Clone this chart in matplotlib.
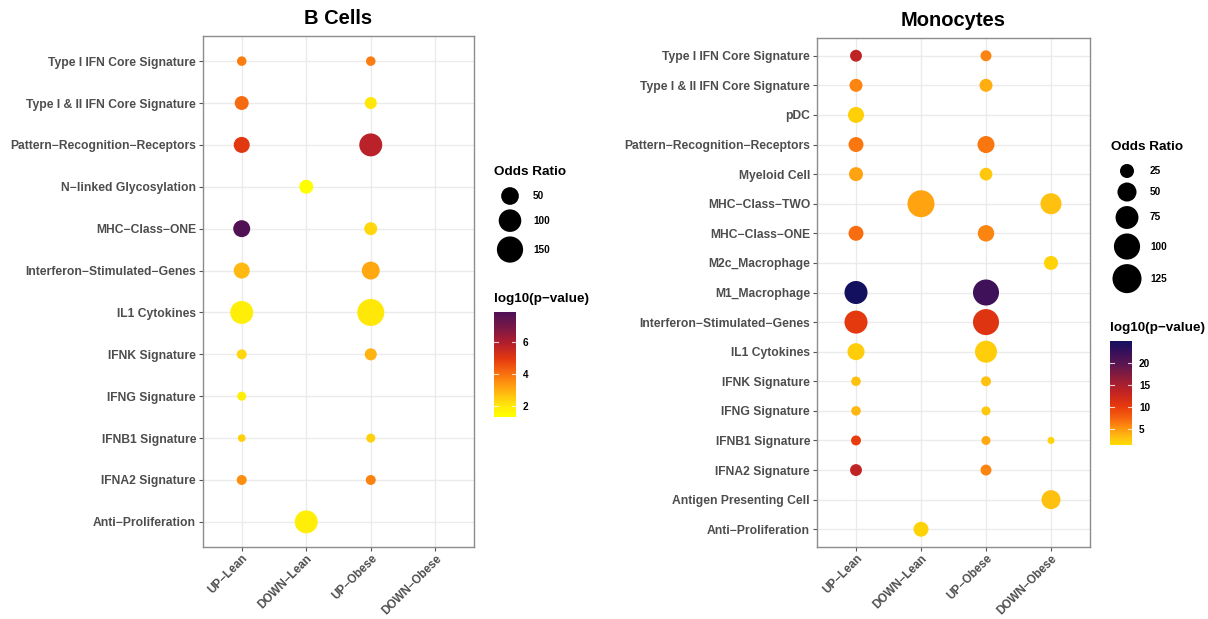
import numpy as np
import matplotlib
matplotlib.use("Agg")
import matplotlib.pyplot as plt
from matplotlib.colors import LinearSegmentedColormap, Normalize
from matplotlib.colorbar import ColorbarBase

plt.rcParams['font.family'] = ['Liberation Sans', 'DejaVu Sans']
plt.rcParams['font.weight'] = 'bold'

# ---------------- data ----------------
groups = ["UP−Lean", "DOWN−Lean", "UP−Obese", "DOWN−Obese"]

bc_sets = ["Type I IFN Core Signature", "Type I & II IFN Core Signature",
           "Pattern−Recognition−Receptors", "N−linked Glycosylation",
           "MHC−Class−ONE", "Interferon−Stimulated−Genes", "IL1 Cytokines",
           "IFNK Signature", "IFNG Signature", "IFNB1 Signature",
           "IFNA2 Signature", "Anti−Proliferation"]
bc_pt_set = ["Type I IFN Core Signature", "Type I IFN Core Signature",
             "Type I & II IFN Core Signature", "Type I & II IFN Core Signature",
             "Pattern−Recognition−Receptors", "Pattern−Recognition−Receptors",
             "N−linked Glycosylation",
             "MHC−Class−ONE", "MHC−Class−ONE",
             "Interferon−Stimulated−Genes", "Interferon−Stimulated−Genes",
             "IL1 Cytokines", "IL1 Cytokines",
             "IFNK Signature", "IFNK Signature",
             "IFNG Signature",
             "IFNB1 Signature", "IFNB1 Signature",
             "IFNA2 Signature", "IFNA2 Signature",
             "Anti−Proliferation"]
bc_pt_group = ["UP−Lean", "UP−Obese",
               "UP−Lean", "UP−Obese",
               "UP−Lean", "UP−Obese",
               "DOWN−Lean",
               "UP−Lean", "UP−Obese",
               "UP−Lean", "UP−Obese",
               "UP−Lean", "UP−Obese",
               "UP−Lean", "UP−Obese",
               "UP−Lean",
               "UP−Lean", "UP−Obese",
               "UP−Lean", "UP−Obese",
               "DOWN−Lean"]
bc_odds = [7.5, 7.5, 24, 15, 37, 105, 24, 44, 19, 37, 52, 105, 162,
           8.5, 15, 6.6, 5.2, 6.6, 8.5, 8.5, 105]
bc_logp = [3.8, 3.8, 4.1, 2.0, 5.0, 5.8, 1.35, 7.8, 2.3, 2.8, 3.1, 1.85, 2.0,
           2.3, 2.9, 1.8, 2.4, 2.4, 3.5, 3.7, 1.85]
bc_size_breaks = [50, 100, 150]
bc_color_breaks = [2, 4, 6]

mo_sets = ["Type I IFN Core Signature", "Type I & II IFN Core Signature", "pDC",
           "Pattern−Recognition−Receptors", "Myeloid Cell", "MHC−Class−TWO",
           "MHC−Class−ONE", "M2c_Macrophage", "M1_Macrophage",
           "Interferon−Stimulated−Genes", "IL1 Cytokines", "IFNK Signature",
           "IFNG Signature", "IFNB1 Signature", "IFNA2 Signature",
           "Antigen Presenting Cell", "Anti−Proliferation"]
mo_pt_set = ["Type I IFN Core Signature", "Type I IFN Core Signature",
             "Type I & II IFN Core Signature", "Type I & II IFN Core Signature",
             "pDC",
             "Pattern−Recognition−Receptors", "Pattern−Recognition−Receptors",
             "Myeloid Cell", "Myeloid Cell",
             "MHC−Class−TWO", "MHC−Class−TWO",
             "MHC−Class−ONE", "MHC−Class−ONE",
             "M2c_Macrophage",
             "M1_Macrophage", "M1_Macrophage",
             "Interferon−Stimulated−Genes", "Interferon−Stimulated−Genes",
             "IL1 Cytokines", "IL1 Cytokines",
             "IFNK Signature", "IFNK Signature",
             "IFNG Signature", "IFNG Signature",
             "IFNB1 Signature", "IFNB1 Signature", "IFNB1 Signature",
             "IFNA2 Signature", "IFNA2 Signature",
             "Antigen Presenting Cell",
             "Anti−Proliferation"]
mo_pt_group = ["UP−Lean", "UP−Obese",
               "UP−Lean", "UP−Obese",
               "UP−Lean",
               "UP−Lean", "UP−Obese",
               "UP−Lean", "UP−Obese",
               "DOWN−Lean", "DOWN−Obese",
               "UP−Lean", "UP−Obese",
               "DOWN−Obese",
               "UP−Lean", "UP−Obese",
               "UP−Lean", "UP−Obese",
               "UP−Lean", "UP−Obese",
               "UP−Lean", "UP−Obese",
               "UP−Lean", "UP−Obese",
               "UP−Lean", "UP−Obese", "DOWN−Obese",
               "UP−Lean", "UP−Obese",
               "DOWN−Obese",
               "DOWN−Lean"]
mo_odds = [17, 14, 21, 21, 34, 29, 39, 25, 20, 107, 62, 29, 36, 25,
           76, 99, 76, 99, 39, 69, 10, 11, 10, 8.6, 11, 8.6, 4.5,
           17, 14, 50, 29]
mo_logp = [13.5, 6.0, 6.0, 4.0, 2.2, 6.5, 6.5, 4.5, 2.6, 4.5, 3.0, 7.0, 6.0,
           2.0, 25.0, 22.0, 10.5, 11.0, 2.4, 2.4, 3.0, 3.0, 3.5, 2.6,
           10.0, 4.2, 2.0, 13.5, 6.0, 3.0, 2.1]
mo_size_breaks = [25, 50, 75, 100, 125]
mo_color_breaks = [5, 10, 15, 20]

# ---------------- style ----------------
W, H, DPI = 1208, 619, 100
PX2PT = 72.0 / DPI

bc_cmap = LinearSegmentedColormap.from_list("bc", [
    (0.00, "#FFFF00"), (0.10, "#FFEA08"), (0.20, "#FFC410"), (0.30, "#FF9C10"),
    (0.42, "#F86C10"), (0.55, "#E53A10"), (0.70, "#B41E2C"), (0.85, "#7A1846"),
    (1.00, "#4E1256")])
bc_norm = Normalize(1.3, 7.9)

mo_cmap = LinearSegmentedColormap.from_list("mo", [
    (0.00, "#FFDD00"), (0.07, "#FFC010"), (0.15, "#FF9A10"), (0.24, "#F86A10"),
    (0.37, "#E83A0C"), (0.50, "#C42422"), (0.62, "#9A1E36"), (0.78, "#5A1650"),
    (0.90, "#36105A"), (1.00, "#141060")])
mo_norm = Normalize(1.4, 25.0)


def bc_diam(v):
    v = np.asarray(v, dtype=float)
    return 7 + 1.597 * np.sqrt(np.clip(v - 5, 0, None))


def mo_diam(v):
    v = np.asarray(v, dtype=float)
    return 1.86 + 2.43 * np.sqrt(v)


TICK_COLOR = "#4D4D4D"
GRID_COLOR = "#EBEBEB"
BORDER_COLOR = "#8C8C8C"

fig = plt.figure(figsize=(W / DPI, H / DPI), dpi=DPI)


def panel(rect, title, sets, pt_set, pt_group, odds, logp, cmap, norm, diam):
    ax = fig.add_axes(rect)
    n = len(sets)
    xs = [groups.index(g) for g in pt_group]
    ys = [sets.index(s) for s in pt_set]
    d = diam(odds)
    s = (d * PX2PT) ** 2
    order = np.argsort(-np.asarray(odds))
    ax.scatter(np.array(xs)[order], np.array(ys)[order], s=s[order],
               c=np.asarray(logp)[order], cmap=cmap, norm=norm,
               edgecolors="none", zorder=3)
    ax.set_xlim(-0.6, len(groups) - 1 + 0.6)
    ax.set_ylim(n - 1 + 0.6, -0.6)
    ax.set_xticks(range(len(groups)))
    ax.set_xticklabels(groups, rotation=45, ha="right", rotation_mode="anchor",
                       fontsize=8.4, color=TICK_COLOR, fontweight="bold")
    ax.set_yticks(range(n))
    ax.set_yticklabels(sets, fontsize=8.7, color=TICK_COLOR, fontweight="bold")
    ax.grid(True, color=GRID_COLOR, linewidth=1.0, zorder=0)
    ax.set_axisbelow(True)
    ax.tick_params(length=3, width=0.8, color="#555555", pad=2)
    ax.tick_params(axis="x", pad=1)
    for sp in ax.spines.values():
        sp.set_color(BORDER_COLOR)
        sp.set_linewidth(1.0)
    ax.set_title(title, fontsize=14.5, fontweight="bold", pad=9)
    return ax


panel([203 / W, 1 - 547 / H, (474 - 203) / W, (547 - 36) / H], "B Cells",
      bc_sets, bc_pt_set, bc_pt_group, bc_odds, bc_logp, bc_cmap, bc_norm, bc_diam)
panel([817 / W, 1 - 547 / H, (1090 - 817) / W, (547 - 38) / H], "Monocytes",
      mo_sets, mo_pt_set, mo_pt_group, mo_odds, mo_logp, mo_cmap, mo_norm, mo_diam)

# overlay for legends
ov = fig.add_axes([0, 0, 1, 1])
ov.set_xlim(0, W)
ov.set_ylim(H, 0)
ov.axis("off")


def size_legend(x0, ytitle, yfirst, breaks, diam):
    ov.text(x0, ytitle, "Odds Ratio", fontsize=9.7, fontweight="bold",
            va="center", ha="left", color="black")
    d = diam(breaks)
    cx = x0 + 16
    y = yfirst
    ys = []
    for i, di in enumerate(d):
        if i > 0:
            y += (d[i - 1] + di) / 2 + 4.5
        ys.append(y)
    ov.scatter([cx] * len(breaks), ys, s=(d * PX2PT) ** 2, c="black",
               edgecolors="none")
    for b, yy in zip(breaks, ys):
        ov.text(x0 + 39, yy, str(b), fontsize=7.2, fontweight="bold",
                va="center", ha="left", color="black")


def color_legend(x0, ytitle, ytop, ybot, cmap, norm, breaks):
    ov.text(x0, ytitle, "log10(p−value)", fontsize=9.7, fontweight="bold",
            va="center", ha="left", color="black")
    cax = fig.add_axes([x0 / W, 1 - ybot / H, 22 / W, (ybot - ytop) / H])
    cb = ColorbarBase(cax, cmap=cmap, norm=norm, orientation="vertical")
    cb.outline.set_visible(False)
    cax.set_yticks(breaks)
    cax.set_yticklabels([str(b) for b in breaks], fontsize=7.2,
                        fontweight="bold", color="black")
    cax.tick_params(length=0, pad=5)
    for b in breaks:
        cax.axhline(b, 0, 0.2, color="white", lw=0.8, alpha=0.8)
        cax.axhline(b, 0.8, 1.0, color="white", lw=0.8, alpha=0.8)


size_legend(494, 172, 196, bc_size_breaks, bc_diam)
color_legend(494, 299, 312, 417, bc_cmap, bc_norm, bc_color_breaks)
size_legend(1111, 147, 171, mo_size_breaks, mo_diam)
color_legend(1110, 328, 341, 445, mo_cmap, mo_norm, mo_color_breaks)

fig.savefig("out.png", dpi=DPI)
